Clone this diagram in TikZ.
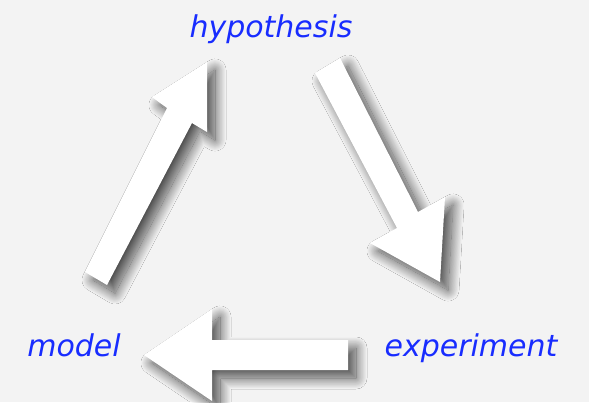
\documentclass[tikz,border=0pt]{standalone}
\usepackage{fontspec}
\setmainfont{DejaVu Sans}
\usetikzlibrary{shadows.blur}
\definecolor{bgcol}{RGB}{243,243,243}
\definecolor{txtblue}{RGB}{24,44,255}
\tikzset{
  label/.style={font=\fontsize{30}{36}\selectfont\itshape, text=txtblue, anchor=base, inner sep=0pt},
  bigarrow/.style={fill=white, draw=none,
    blur shadow={shadow xshift=8pt, shadow yshift=-8pt, shadow blur radius=11pt, shadow opacity=70, shadow blur steps=40}}
}
\begin{document}
\begin{tikzpicture}[x=1pt,y=-1pt]
  \fill[bgcol] (0,0) rectangle (589,402);
  \useasboundingbox (0,0) rectangle (589,402);
  \node[label] (hyp) at (271,37) {hypothesis};
  \node[label] (mod) at (74,356) {model};
  \node[label] (exp) at (471,356) {experiment};
  % hypothesis -> experiment
  \fill[bigarrow] (340,58) -- (418,212) -- (445,197) -- (440,282) -- (370,243) -- (397,228) -- (315,73) -- cycle;
  % experiment -> model
  \fill[bigarrow] (144,355) -- (212,309) -- (212,340) -- (348,340) -- (348,370) -- (212,370) -- (212,401) -- cycle;
  % model -> hypothesis
  \fill[bigarrow] (85,272) -- (167,108) -- (152,97) -- (207,62) -- (207,132) -- (192,123) -- (107,285) -- cycle;
\end{tikzpicture}
\end{document}
